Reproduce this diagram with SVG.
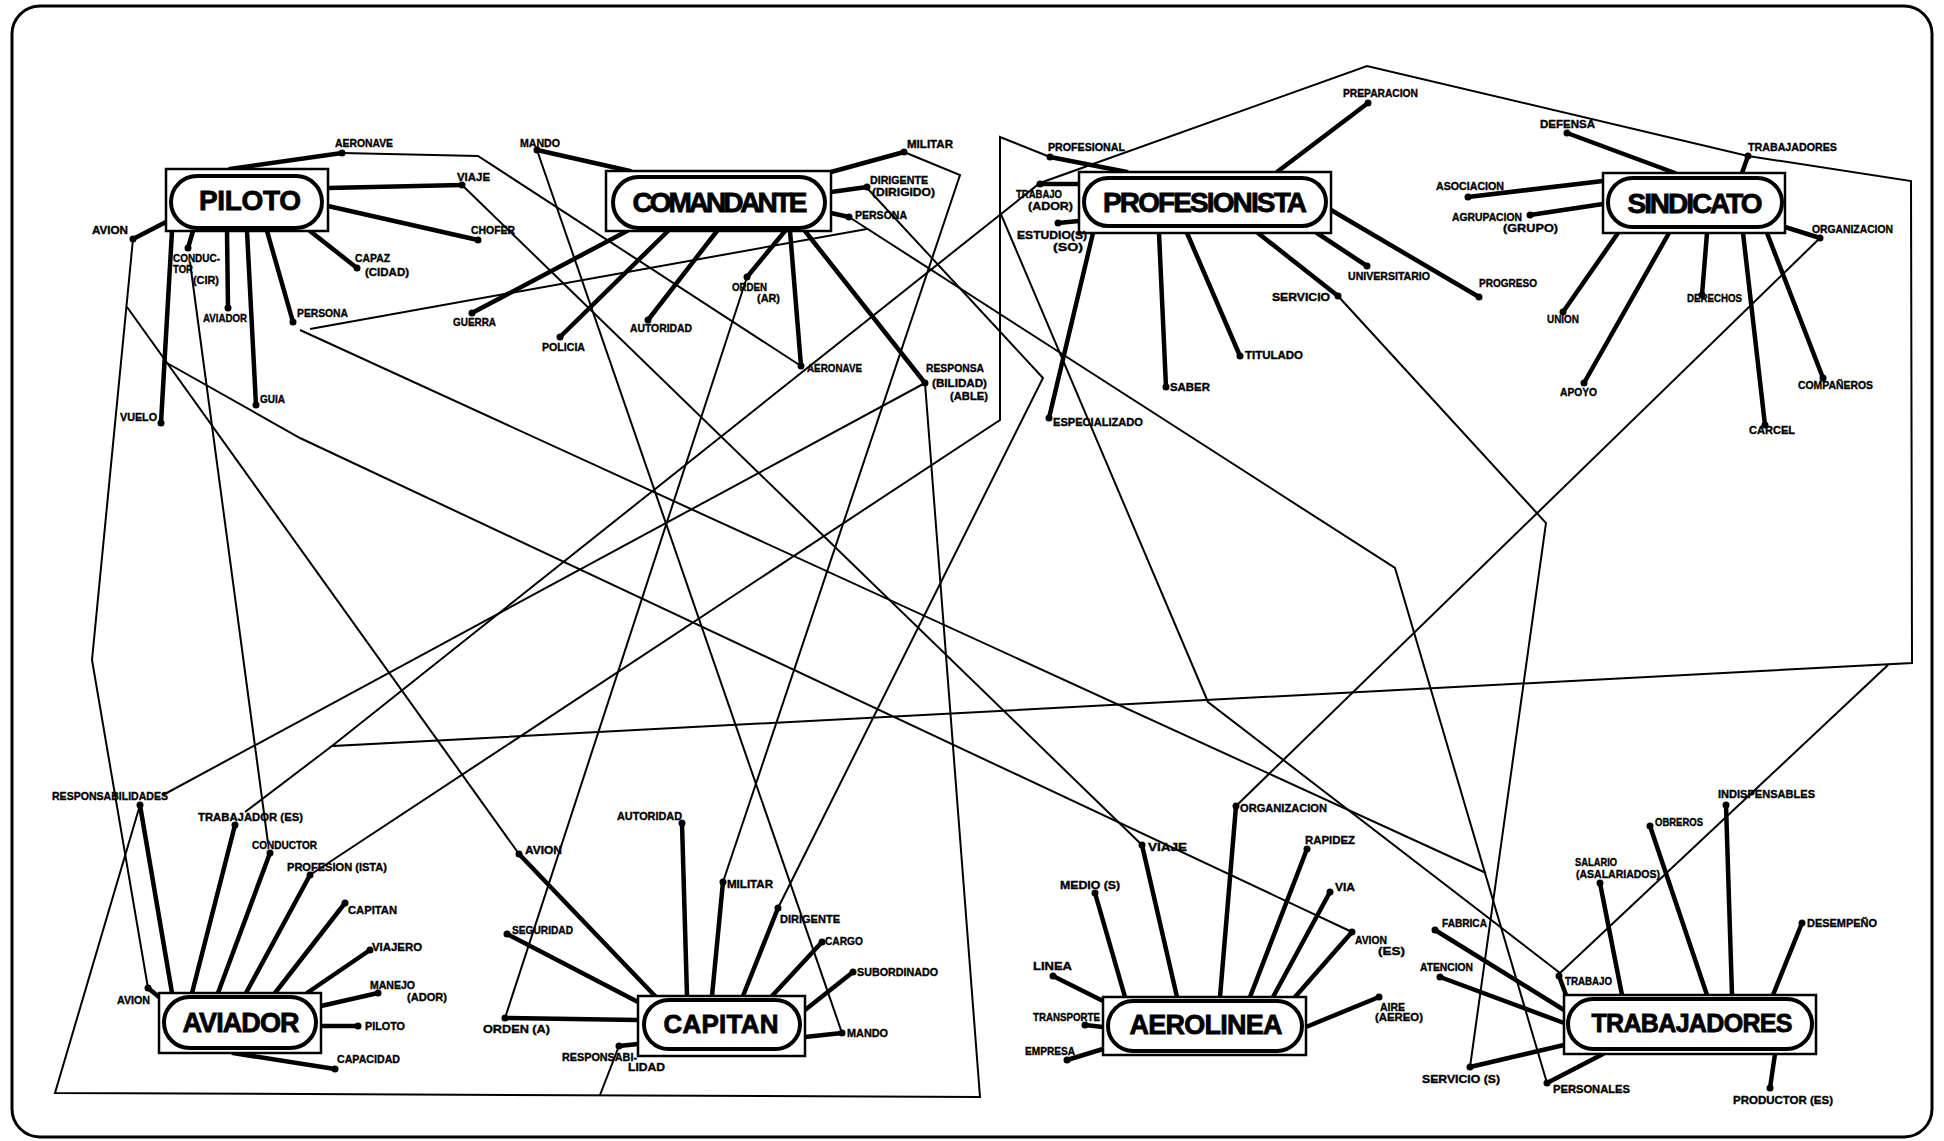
<svg xmlns="http://www.w3.org/2000/svg" width="1944" height="1141" viewBox="0 0 1944 1141">
<style>
.frame{fill:none;stroke:#000;stroke-width:3}
.box{fill:#fff;stroke:#000;stroke-width:2.5}
.pill{fill:#fff;stroke:#000;stroke-width:4}
.title{font-family:"Liberation Sans",Arial,sans-serif;font-weight:bold;font-size:28px;text-anchor:middle;fill:#000;stroke:#000;stroke-width:0.8}
.lbl{font-family:"Liberation Sans",Arial,sans-serif;font-weight:bold;font-size:11px;fill:#000;stroke:#000;stroke-width:0.35}
.thick{stroke:#000;stroke-width:4.5;fill:none;stroke-linecap:round}
.thin{stroke:#000;stroke-width:2;fill:none;stroke-linejoin:miter}
.dot{fill:#000}
</style>
<rect width="1944" height="1141" fill="#fff"/>
<rect class="frame" x="12" y="6" width="1920" height="1131" rx="28"/>

<g id="connectors" class="thin">
<path d="M342,153 L478,156 L801,366"/>
<path d="M462,185 L1142,845"/>
<path d="M133,239 L92,660 L148,988"/>
<path d="M127,307 L519,854"/>
<path d="M167,363 L300,438 L1352,932"/>
<path d="M190,262 L268,843"/>
<path d="M310,329 L867,229"/>
<path d="M300,330 L1486,873"/>
<path d="M538,153 L842,1033"/>
<path d="M904,152 L960,175 L723,882"/>
<path d="M867,188 L1043,378 L778,908"/>
<path d="M849,217 L1395,568 L1547,1083"/>
<path d="M747,277 L505,1018"/>
<path d="M925,383 L163,795"/>
<path d="M925,383 L980,1097 L55,1093 L140,805"/>
<path d="M619,1046 L600,1095"/>
<path d="M332,746 L1040,183 L1367,66 L1748,156 L1911,181 L1912,663 Z"/>
<path d="M332,746 L245,812"/>
<path d="M310,875 L1000,420 L1000,137 L1050,157"/>
<path d="M1000,212 L1208,702 L1560,973"/>
<path d="M1338,296 L1546,523 L1470,1067"/>
<path d="M1820,238 L1236,806"/>
<path d="M1560,973 L1888,665"/>
</g>

<g id="piloto">
<g class="thick">
<line x1="230" y1="169" x2="342" y2="153"/>
<line x1="328" y1="188" x2="462" y2="185"/>
<line x1="328" y1="206" x2="478" y2="240"/>
<line x1="310" y1="231" x2="357" y2="268"/>
<line x1="267" y1="231" x2="293" y2="322"/>
<line x1="247" y1="231" x2="256" y2="405"/>
<line x1="227" y1="231" x2="228" y2="308"/>
<line x1="193" y1="231" x2="188" y2="248"/>
<line x1="172" y1="231" x2="161" y2="423"/>
<line x1="166" y1="222" x2="133" y2="239"/>
</g>
<g class="dot">
<circle cx="342" cy="153" r="3.5"/><circle cx="462" cy="185" r="3.5"/><circle cx="478" cy="240" r="3.5"/><circle cx="357" cy="268" r="3.5"/><circle cx="293" cy="322" r="3.5"/><circle cx="256" cy="405" r="3.5"/><circle cx="228" cy="308" r="3.5"/><circle cx="188" cy="248" r="3.5"/><circle cx="161" cy="423" r="3.5"/><circle cx="133" cy="239" r="3.5"/>
</g>
<rect class="box" x="166" y="169" width="162" height="62"/>
<rect class="pill" x="171" y="176" width="151" height="52" rx="26"/>
<text class="title" x="250" y="210" textLength="102">PILOTO</text>
<g class="lbl">
<text x="335" y="147" textLength="58" lengthAdjust="spacingAndGlyphs">AERONAVE</text>
<text x="457" y="181" textLength="33" lengthAdjust="spacingAndGlyphs">VIAJE</text>
<text x="471" y="234" textLength="44" lengthAdjust="spacingAndGlyphs">CHOFER</text>
<text x="355" y="262" textLength="35" lengthAdjust="spacingAndGlyphs">CAPAZ</text>
<text x="365" y="276" textLength="44" lengthAdjust="spacingAndGlyphs">(CIDAD)</text>
<text x="297" y="317" textLength="51" lengthAdjust="spacingAndGlyphs">PERSONA</text>
<text x="260" y="403" textLength="25" lengthAdjust="spacingAndGlyphs">GUIA</text>
<text x="203" y="322" textLength="44" lengthAdjust="spacingAndGlyphs">AVIADOR</text>
<text x="173" y="262" textLength="47" lengthAdjust="spacingAndGlyphs">CONDUC-</text>
<text x="173" y="273" textLength="20" lengthAdjust="spacingAndGlyphs">TOR</text>
<text x="193" y="284" textLength="26" lengthAdjust="spacingAndGlyphs">(CIR)</text>
<text x="120" y="421" textLength="37" lengthAdjust="spacingAndGlyphs">VUELO</text>
<text x="92" y="234" textLength="36" lengthAdjust="spacingAndGlyphs">AVION</text>
</g>
</g>

<g id="comandante">
<g class="thick">
<line x1="630" y1="171" x2="537" y2="150"/>
<line x1="831" y1="172" x2="904" y2="152"/>
<line x1="831" y1="192" x2="867" y2="187"/>
<line x1="831" y1="213" x2="849" y2="217"/>
<line x1="805" y1="231" x2="925" y2="383"/>
<line x1="790" y1="231" x2="801" y2="366"/>
<line x1="785" y1="231" x2="747" y2="277"/>
<line x1="717" y1="231" x2="648" y2="320"/>
<line x1="668" y1="231" x2="560" y2="337"/>
<line x1="627" y1="231" x2="472" y2="313"/>
</g>
<g class="dot">
<circle cx="537" cy="150" r="3.5"/><circle cx="904" cy="152" r="3.5"/><circle cx="867" cy="187" r="3.5"/><circle cx="849" cy="217" r="3.5"/><circle cx="925" cy="383" r="3.5"/><circle cx="801" cy="366" r="3.5"/><circle cx="747" cy="277" r="3.5"/><circle cx="648" cy="320" r="3.5"/><circle cx="560" cy="337" r="3.5"/><circle cx="472" cy="313" r="3.5"/>
</g>
<rect class="box" x="606" y="171" width="225" height="60"/>
<rect class="pill" x="613" y="177" width="212" height="51" rx="25.5"/>
<text class="title" x="720" y="212" textLength="175">COMANDANTE</text>
<g class="lbl">
<text x="520" y="147" textLength="40" lengthAdjust="spacingAndGlyphs">MANDO</text>
<text x="907" y="148" textLength="46" lengthAdjust="spacingAndGlyphs">MILITAR</text>
<text x="870" y="184" textLength="58" lengthAdjust="spacingAndGlyphs">DIRIGENTE</text>
<text x="872" y="196" textLength="63" lengthAdjust="spacingAndGlyphs">(DIRIGIDO)</text>
<text x="855" y="219" textLength="52" lengthAdjust="spacingAndGlyphs">PERSONA</text>
<text x="926" y="372" textLength="58" lengthAdjust="spacingAndGlyphs">RESPONSA</text>
<text x="932" y="387" textLength="55" lengthAdjust="spacingAndGlyphs">(BILIDAD)</text>
<text x="950" y="400" textLength="38" lengthAdjust="spacingAndGlyphs">(ABLE)</text>
<text x="807" y="372" textLength="55" lengthAdjust="spacingAndGlyphs">AERONAVE</text>
<text x="732" y="291" textLength="35" lengthAdjust="spacingAndGlyphs">ORDEN</text>
<text x="757" y="302" textLength="23" lengthAdjust="spacingAndGlyphs">(AR)</text>
<text x="630" y="332" textLength="62" lengthAdjust="spacingAndGlyphs">AUTORIDAD</text>
<text x="542" y="351" textLength="43" lengthAdjust="spacingAndGlyphs">POLICIA</text>
<text x="453" y="326" textLength="43" lengthAdjust="spacingAndGlyphs">GUERRA</text>
</g>
</g>

<g id="profesionista">
<g class="thick">
<line x1="1127" y1="172" x2="1050" y2="157"/>
<line x1="1079" y1="184" x2="1040" y2="184"/>
<line x1="1079" y1="221" x2="1058" y2="223"/>
<line x1="1277" y1="172" x2="1368" y2="103"/>
<line x1="1317" y1="233" x2="1367" y2="266"/>
<line x1="1331" y1="210" x2="1479" y2="297"/>
<line x1="1258" y1="233" x2="1338" y2="296"/>
<line x1="1187" y1="233" x2="1240" y2="356"/>
<line x1="1159" y1="233" x2="1166" y2="387"/>
<line x1="1093" y1="233" x2="1049" y2="418"/>
</g>
<g class="dot">
<circle cx="1050" cy="157" r="3.5"/><circle cx="1040" cy="184" r="3.5"/><circle cx="1058" cy="223" r="3.5"/><circle cx="1368" cy="103" r="3.5"/><circle cx="1367" cy="266" r="3.5"/><circle cx="1479" cy="297" r="3.5"/><circle cx="1338" cy="296" r="3.5"/><circle cx="1240" cy="356" r="3.5"/><circle cx="1166" cy="387" r="3.5"/><circle cx="1049" cy="418" r="3.5"/>
</g>
<rect class="box" x="1079" y="172" width="252" height="61"/>
<rect class="pill" x="1084" y="178" width="242" height="48" rx="24"/>
<text class="title" x="1205" y="212" textLength="204">PROFESIONISTA</text>
<g class="lbl">
<text x="1048" y="151" textLength="77" lengthAdjust="spacingAndGlyphs">PROFESIONAL</text>
<text x="1016" y="198" textLength="46" lengthAdjust="spacingAndGlyphs">TRABAJO</text>
<text x="1028" y="210" textLength="45" lengthAdjust="spacingAndGlyphs">(ADOR)</text>
<text x="1017" y="239" textLength="70" lengthAdjust="spacingAndGlyphs">ESTUDIO(S)</text>
<text x="1053" y="251" textLength="30" lengthAdjust="spacingAndGlyphs">(SO)</text>
<text x="1343" y="97" textLength="75" lengthAdjust="spacingAndGlyphs">PREPARACION</text>
<text x="1348" y="280" textLength="82" lengthAdjust="spacingAndGlyphs">UNIVERSITARIO</text>
<text x="1479" y="287" textLength="58" lengthAdjust="spacingAndGlyphs">PROGRESO</text>
<text x="1272" y="301" textLength="58" lengthAdjust="spacingAndGlyphs">SERVICIO</text>
<text x="1245" y="359" textLength="58" lengthAdjust="spacingAndGlyphs">TITULADO</text>
<text x="1170" y="391" textLength="40" lengthAdjust="spacingAndGlyphs">SABER</text>
<text x="1053" y="426" textLength="90" lengthAdjust="spacingAndGlyphs">ESPECIALIZADO</text>
</g>
</g>

<g id="sindicato">
<g class="thick">
<line x1="1675" y1="173" x2="1567" y2="133"/>
<line x1="1742" y1="173" x2="1748" y2="156"/>
<line x1="1603" y1="181" x2="1468" y2="197"/>
<line x1="1603" y1="204" x2="1530" y2="215"/>
<line x1="1785" y1="227" x2="1820" y2="238"/>
<line x1="1618" y1="233" x2="1563" y2="312"/>
<line x1="1669" y1="233" x2="1584" y2="383"/>
<line x1="1707" y1="233" x2="1702" y2="295"/>
<line x1="1743" y1="233" x2="1765" y2="425"/>
<line x1="1767" y1="233" x2="1823" y2="378"/>
</g>
<g class="dot">
<circle cx="1567" cy="133" r="3.5"/><circle cx="1748" cy="156" r="3.5"/><circle cx="1468" cy="197" r="3.5"/><circle cx="1530" cy="215" r="3.5"/><circle cx="1820" cy="238" r="3.5"/><circle cx="1563" cy="312" r="3.5"/><circle cx="1584" cy="383" r="3.5"/><circle cx="1702" cy="295" r="3.5"/><circle cx="1765" cy="425" r="3.5"/><circle cx="1823" cy="378" r="3.5"/>
</g>
<rect class="box" x="1603" y="173" width="182" height="60"/>
<rect class="pill" x="1608" y="178" width="174" height="49" rx="24.5"/>
<text class="title" x="1695" y="213" textLength="135">SINDICATO</text>
<g class="lbl">
<text x="1540" y="128" textLength="55" lengthAdjust="spacingAndGlyphs">DEFENSA</text>
<text x="1748" y="151" textLength="89" lengthAdjust="spacingAndGlyphs">TRABAJADORES</text>
<text x="1436" y="190" textLength="68" lengthAdjust="spacingAndGlyphs">ASOCIACION</text>
<text x="1452" y="221" textLength="70" lengthAdjust="spacingAndGlyphs">AGRUPACION</text>
<text x="1503" y="232" textLength="55" lengthAdjust="spacingAndGlyphs">(GRUPO)</text>
<text x="1812" y="233" textLength="81" lengthAdjust="spacingAndGlyphs">ORGANIZACION</text>
<text x="1547" y="323" textLength="32" lengthAdjust="spacingAndGlyphs">UNION</text>
<text x="1560" y="396" textLength="37" lengthAdjust="spacingAndGlyphs">APOYO</text>
<text x="1687" y="302" textLength="55" lengthAdjust="spacingAndGlyphs">DERECHOS</text>
<text x="1749" y="434" textLength="46" lengthAdjust="spacingAndGlyphs">CARCEL</text>
<text x="1798" y="389" textLength="75" lengthAdjust="spacingAndGlyphs">COMPAÑEROS</text>
</g>
</g>

<g id="aviador">
<g class="thick">
<line x1="172" y1="993" x2="140" y2="805"/>
<line x1="192" y1="993" x2="235" y2="825"/>
<line x1="218" y1="993" x2="270" y2="853"/>
<line x1="246" y1="993" x2="310" y2="875"/>
<line x1="275" y1="993" x2="345" y2="903"/>
<line x1="307" y1="993" x2="370" y2="950"/>
<line x1="321" y1="1006" x2="378" y2="993"/>
<line x1="321" y1="1026" x2="358" y2="1026"/>
<line x1="233" y1="1053" x2="335" y2="1069"/>
<line x1="159" y1="997" x2="148" y2="988"/>
</g>
<g class="dot">
<circle cx="140" cy="805" r="3.5"/><circle cx="235" cy="825" r="3.5"/><circle cx="270" cy="853" r="3.5"/><circle cx="310" cy="875" r="3.5"/><circle cx="345" cy="903" r="3.5"/><circle cx="370" cy="950" r="3.5"/><circle cx="378" cy="993" r="3.5"/><circle cx="358" cy="1026" r="3.5"/><circle cx="335" cy="1069" r="3.5"/><circle cx="148" cy="988" r="3.5"/>
</g>
<rect class="box" x="159" y="993" width="162" height="60"/>
<rect class="pill" x="164" y="997" width="152" height="51" rx="25.5"/>
<text class="title" x="241" y="1032" textLength="117" style="font-size:27px">AVIADOR</text>
<g class="lbl">
<text x="52" y="800" textLength="116" lengthAdjust="spacingAndGlyphs">RESPONSABILIDADES</text>
<text x="198" y="821" textLength="105" lengthAdjust="spacingAndGlyphs">TRABAJADOR (ES)</text>
<text x="252" y="849" textLength="65" lengthAdjust="spacingAndGlyphs">CONDUCTOR</text>
<text x="287" y="871" textLength="100" lengthAdjust="spacingAndGlyphs">PROFESION (ISTA)</text>
<text x="348" y="914" textLength="49" lengthAdjust="spacingAndGlyphs">CAPITAN</text>
<text x="372" y="951" textLength="50" lengthAdjust="spacingAndGlyphs">VIAJERO</text>
<text x="370" y="989" textLength="45" lengthAdjust="spacingAndGlyphs">MANEJO</text>
<text x="407" y="1001" textLength="40" lengthAdjust="spacingAndGlyphs">(ADOR)</text>
<text x="365" y="1030" textLength="40" lengthAdjust="spacingAndGlyphs">PILOTO</text>
<text x="337" y="1063" textLength="63" lengthAdjust="spacingAndGlyphs">CAPACIDAD</text>
<text x="117" y="1004" textLength="33" lengthAdjust="spacingAndGlyphs">AVION</text>
</g>
</g>

<g id="capitan">
<g class="thick">
<line x1="687" y1="996" x2="682" y2="823"/>
<line x1="655" y1="996" x2="519" y2="854"/>
<line x1="638" y1="1002" x2="507" y2="934"/>
<line x1="638" y1="1020" x2="505" y2="1018"/>
<line x1="638" y1="1044" x2="619" y2="1046"/>
<line x1="712" y1="996" x2="723" y2="882"/>
<line x1="743" y1="996" x2="778" y2="908"/>
<line x1="772" y1="996" x2="822" y2="942"/>
<line x1="805" y1="1010" x2="853" y2="972"/>
<line x1="805" y1="1037" x2="842" y2="1033"/>
</g>
<g class="dot">
<circle cx="682" cy="823" r="3.5"/><circle cx="519" cy="854" r="3.5"/><circle cx="507" cy="934" r="3.5"/><circle cx="505" cy="1018" r="3.5"/><circle cx="619" cy="1046" r="3.5"/><circle cx="723" cy="882" r="3.5"/><circle cx="778" cy="908" r="3.5"/><circle cx="822" cy="942" r="3.5"/><circle cx="853" cy="972" r="3.5"/><circle cx="842" cy="1033" r="3.5"/>
</g>
<rect class="box" x="638" y="996" width="167" height="60"/>
<rect class="pill" x="644" y="1000" width="156" height="49" rx="24.5"/>
<text class="title" x="721" y="1033" textLength="115" style="font-size:26px">CAPITAN</text>
<g class="lbl">
<text x="617" y="820" textLength="65" lengthAdjust="spacingAndGlyphs">AUTORIDAD</text>
<text x="525" y="854" textLength="37" lengthAdjust="spacingAndGlyphs">AVION</text>
<text x="512" y="934" textLength="61" lengthAdjust="spacingAndGlyphs">SEGURIDAD</text>
<text x="483" y="1033" textLength="67" lengthAdjust="spacingAndGlyphs">ORDEN (A)</text>
<text x="562" y="1061" textLength="75" lengthAdjust="spacingAndGlyphs">RESPONSABI-</text>
<text x="628" y="1071" textLength="37" lengthAdjust="spacingAndGlyphs">LIDAD</text>
<text x="727" y="888" textLength="46" lengthAdjust="spacingAndGlyphs">MILITAR</text>
<text x="780" y="923" textLength="60" lengthAdjust="spacingAndGlyphs">DIRIGENTE</text>
<text x="825" y="945" textLength="38" lengthAdjust="spacingAndGlyphs">CARGO</text>
<text x="857" y="976" textLength="81" lengthAdjust="spacingAndGlyphs">SUBORDINADO</text>
<text x="847" y="1037" textLength="41" lengthAdjust="spacingAndGlyphs">MANDO</text>
</g>
</g>

<g id="aerolinea">
<g class="thick">
<line x1="1220" y1="997" x2="1236" y2="806"/>
<line x1="1250" y1="997" x2="1307" y2="849"/>
<line x1="1273" y1="997" x2="1330" y2="892"/>
<line x1="1295" y1="997" x2="1352" y2="932"/>
<line x1="1306" y1="1027" x2="1379" y2="997"/>
<line x1="1125" y1="997" x2="1095" y2="893"/>
<line x1="1177" y1="997" x2="1142" y2="845"/>
<line x1="1103" y1="1001" x2="1053" y2="976"/>
<line x1="1103" y1="1027" x2="1085" y2="1025"/>
<line x1="1103" y1="1049" x2="1067" y2="1060"/>
</g>
<g class="dot">
<circle cx="1236" cy="806" r="3.5"/><circle cx="1307" cy="849" r="3.5"/><circle cx="1330" cy="892" r="3.5"/><circle cx="1352" cy="932" r="3.5"/><circle cx="1379" cy="997" r="3.5"/><circle cx="1095" cy="893" r="3.5"/><circle cx="1142" cy="845" r="3.5"/><circle cx="1053" cy="976" r="3.5"/><circle cx="1085" cy="1025" r="3.5"/><circle cx="1067" cy="1060" r="3.5"/>
</g>
<rect class="box" x="1103" y="997" width="203" height="58"/>
<rect class="pill" x="1108" y="1001" width="194" height="50" rx="25"/>
<text class="title" x="1206" y="1034" textLength="153" style="font-size:27px">AEROLINEA</text>
<g class="lbl">
<text x="1240" y="812" textLength="87" lengthAdjust="spacingAndGlyphs">ORGANIZACION</text>
<text x="1305" y="844" textLength="50" lengthAdjust="spacingAndGlyphs">RAPIDEZ</text>
<text x="1335" y="891" textLength="20" lengthAdjust="spacingAndGlyphs">VIA</text>
<text x="1355" y="944" textLength="32" lengthAdjust="spacingAndGlyphs">AVION</text>
<text x="1378" y="955" textLength="27" lengthAdjust="spacingAndGlyphs">(ES)</text>
<text x="1380" y="1011" textLength="25" lengthAdjust="spacingAndGlyphs">AIRE</text>
<text x="1375" y="1021" textLength="48" lengthAdjust="spacingAndGlyphs">(AEREO)</text>
<text x="1060" y="889" textLength="60" lengthAdjust="spacingAndGlyphs">MEDIO (S)</text>
<text x="1148" y="851" textLength="39" lengthAdjust="spacingAndGlyphs">VIAJE</text>
<text x="1033" y="970" textLength="39" lengthAdjust="spacingAndGlyphs">LINEA</text>
<text x="1033" y="1021" textLength="67" lengthAdjust="spacingAndGlyphs">TRANSPORTE</text>
<text x="1025" y="1055" textLength="50" lengthAdjust="spacingAndGlyphs">EMPRESA</text>
</g>
</g>

<g id="trabajadores">
<g class="thick">
<line x1="1732" y1="995" x2="1726" y2="805"/>
<line x1="1707" y1="995" x2="1650" y2="826"/>
<line x1="1622" y1="995" x2="1600" y2="883"/>
<line x1="1773" y1="995" x2="1802" y2="923"/>
<line x1="1564" y1="1010" x2="1435" y2="930"/>
<line x1="1564" y1="1023" x2="1440" y2="977"/>
<line x1="1566" y1="995" x2="1559" y2="976"/>
<line x1="1564" y1="1045" x2="1470" y2="1067"/>
<line x1="1603" y1="1054" x2="1547" y2="1083"/>
<line x1="1775" y1="1054" x2="1770" y2="1088"/>
</g>
<g class="dot">
<circle cx="1726" cy="805" r="3.5"/><circle cx="1650" cy="826" r="3.5"/><circle cx="1600" cy="883" r="3.5"/><circle cx="1802" cy="923" r="3.5"/><circle cx="1435" cy="930" r="3.5"/><circle cx="1440" cy="977" r="3.5"/><circle cx="1559" cy="976" r="3.5"/><circle cx="1470" cy="1067" r="3.5"/><circle cx="1547" cy="1083" r="3.5"/><circle cx="1770" cy="1088" r="3.5"/>
</g>
<rect class="box" x="1564" y="995" width="252" height="59"/>
<rect class="pill" x="1568" y="999" width="244" height="50" rx="25"/>
<text class="title" x="1692" y="1032" textLength="201" style="font-size:25px">TRABAJADORES</text>
<g class="lbl">
<text x="1718" y="798" textLength="97" lengthAdjust="spacingAndGlyphs">INDISPENSABLES</text>
<text x="1655" y="826" textLength="48" lengthAdjust="spacingAndGlyphs">OBREROS</text>
<text x="1575" y="866" textLength="42" lengthAdjust="spacingAndGlyphs">SALARIO</text>
<text x="1576" y="878" textLength="84" lengthAdjust="spacingAndGlyphs">(ASALARIADOS)</text>
<text x="1807" y="927" textLength="70" lengthAdjust="spacingAndGlyphs">DESEMPEÑO</text>
<text x="1442" y="927" textLength="45" lengthAdjust="spacingAndGlyphs">FABRICA</text>
<text x="1420" y="971" textLength="53" lengthAdjust="spacingAndGlyphs">ATENCION</text>
<text x="1565" y="985" textLength="47" lengthAdjust="spacingAndGlyphs">TRABAJO</text>
<text x="1422" y="1083" textLength="78" lengthAdjust="spacingAndGlyphs">SERVICIO (S)</text>
<text x="1553" y="1093" textLength="77" lengthAdjust="spacingAndGlyphs">PERSONALES</text>
<text x="1733" y="1104" textLength="100" lengthAdjust="spacingAndGlyphs">PRODUCTOR (ES)</text>
</g>
</g>
</svg>
